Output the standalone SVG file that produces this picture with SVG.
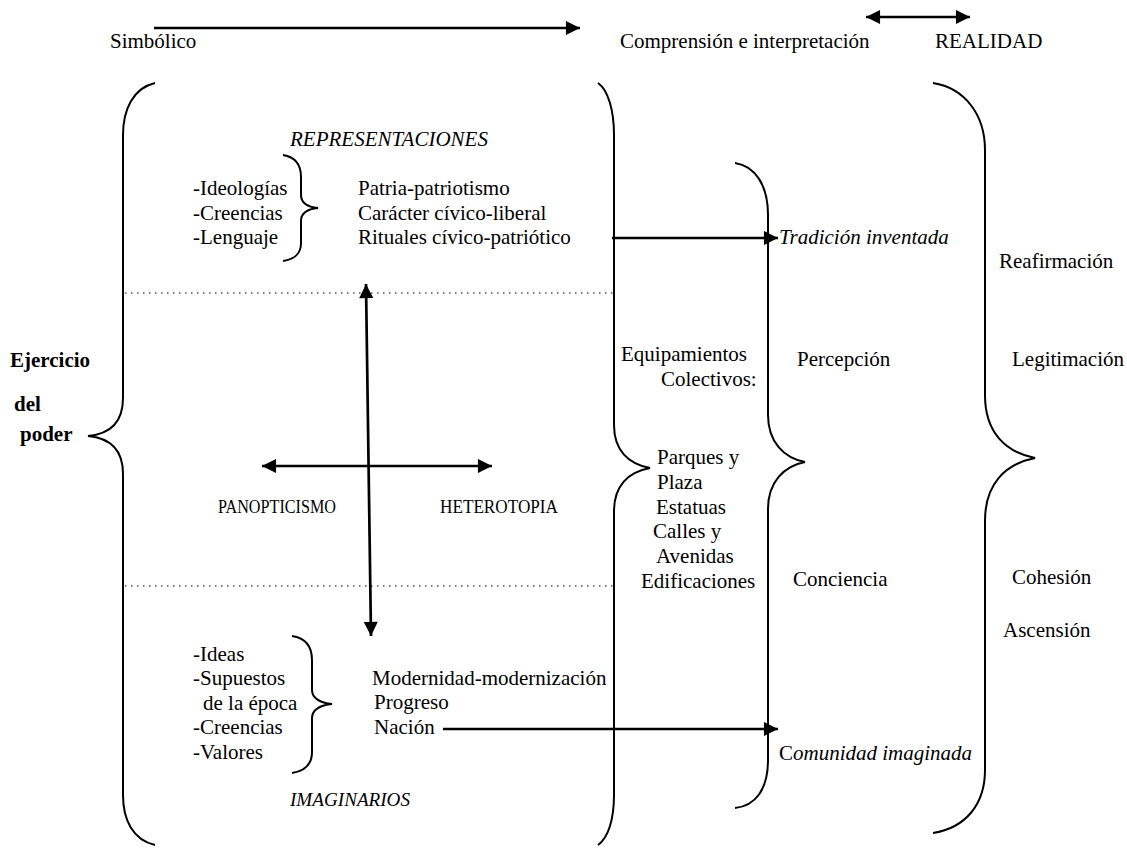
<svg xmlns="http://www.w3.org/2000/svg" width="1127" height="848" viewBox="0 0 1127 848">
<style>
text{font-family:"Liberation Serif","Times New Roman",serif;font-size:21px;fill:#000}
.i{font-style:italic}
.b{font-weight:bold}
.br{fill:none;stroke:#000;stroke-width:2}
.ar{fill:none;stroke:#000;stroke-width:2.7}
.dot{stroke:#000;stroke-width:1.2;stroke-dasharray:1.5 4.5}
.cap{font-size:18.5px}
</style>
<defs>
<marker id="ah" viewBox="0 0 10 10" refX="10" refY="5" markerWidth="5.6" markerHeight="5.2" markerUnits="strokeWidth" orient="auto-start-reverse">
<path d="M0,0 L10,5 L0,10 z" fill="#000"/>
</marker>
</defs>
<rect width="1127" height="848" fill="#fff"/>

<g id="header">
<text x="110" y="48">Simbólico</text>
<text x="620" y="48">Comprensión e interpretación</text>
<text x="935" y="48">REALIDAD</text>
</g>

<g id="braces">
<path class="br" d="M155,83 C133,88 123,110 123,135 L123,398 C123,422 110,434 88,436 C110,438 123,450 123,474 L123,795 C123,820 133,840 155,845"/>
<path class="br" d="M598,83 C608,90 614,110 614,135 L614,425 C614,450 628,464 650,468 C628,472 614,486 614,511 L614,795 C614,820 608,838 598,845"/>
<path class="br" d="M735,163 C755,166 768,185 768,215 L768,415 C768,442 784,458 805,462 C784,466 768,482 768,509 L768,760 C768,790 755,806 735,808"/>
<path class="br" d="M933,83 C965,88 985,115 985,150 L985,395 C985,432 1005,452 1035,458 C1005,464 985,484 985,521 L985,770 C985,805 965,828 933,833"/>
<path class="br" d="M283,155 C295,157 301,165 301,177 L301,195 C301,203 308,207 318,208 C308,209 301,213 301,221 L301,243 C301,254 295,259 283,261"/>
<path class="br" d="M292,636 C305,638 312,646 312,660 L312,690 C312,698 320,703 332,704 C320,705 312,710 312,718 L312,752 C312,765 305,771 292,773"/>
</g>

<g id="dotted">
<line class="dot" x1="125" y1="293" x2="616" y2="293"/>
<line class="dot" x1="125" y1="586" x2="616" y2="586"/>
</g>

<g id="connectors">
<line class="ar" x1="154" y1="28" x2="580" y2="28" marker-end="url(#ah)"/>
<line class="ar" x1="866" y1="17" x2="970" y2="17" marker-start="url(#ah)" marker-end="url(#ah)"/>
<line class="ar" x1="366" y1="284" x2="371" y2="636" marker-start="url(#ah)" marker-end="url(#ah)"/>
<line class="ar" x1="262" y1="466" x2="492" y2="466" marker-start="url(#ah)" marker-end="url(#ah)"/>
<line class="ar" x1="612" y1="238" x2="778" y2="238" marker-end="url(#ah)"/>
<line class="ar" x1="443" y1="729" x2="778" y2="729" marker-end="url(#ah)"/>
</g>

<g id="left-label">
<text class="b" x="10" y="367">Ejercicio</text>
<text class="b" x="14" y="411">del</text>
<text class="b" x="20" y="441">poder</text>
</g>

<g id="representaciones">
<text class="i" x="290" y="146">REPRESENTACIONES</text>
<text x="193" y="195">-Ideologías</text>
<text x="193" y="220">-Creencias</text>
<text x="193" y="244">-Lenguaje</text>
<text x="358" y="195">Patria-patriotismo</text>
<text x="358" y="220">Carácter cívico-liberal</text>
<text x="358" y="244">Rituales cívico-patriótico</text>
</g>

<g id="centro">
<text class="cap" x="218" y="513" textLength="118" lengthAdjust="spacingAndGlyphs">PANOPTICISMO</text>
<text class="cap" x="440" y="513" textLength="118" lengthAdjust="spacingAndGlyphs">HETEROTOPIA</text>
</g>

<g id="imaginarios">
<text x="193" y="661">-Ideas</text>
<text x="193" y="685">-Supuestos</text>
<text x="203" y="710">de la época</text>
<text x="193" y="734">-Creencias</text>
<text x="193" y="759">-Valores</text>
<text x="372" y="685">Modernidad-modernización</text>
<text x="374" y="709">Progreso</text>
<text x="374" y="734">Nación</text>
<text class="i" x="290" y="806" style="font-size:19.5px" textLength="120" lengthAdjust="spacingAndGlyphs">IMAGINARIOS</text>
</g>

<g id="equipamientos">
<text x="621" y="361">Equipamientos</text>
<text x="661" y="386">Colectivos:</text>
<text x="657" y="464">Parques y</text>
<text x="657" y="489">Plaza</text>
<text x="656" y="514">Estatuas</text>
<text x="653" y="538">Calles y</text>
<text x="656" y="563">Avenidas</text>
<text x="641" y="588">Edificaciones</text>
</g>

<g id="percepcion">
<text class="i" x="779" y="244">Tradición inventada</text>
<text x="797" y="366">Percepción</text>
<text x="793" y="586">Conciencia</text>
<text x="779" y="760">C<tspan class="i">omunidad imaginada</tspan></text>
</g>

<g id="realidad">
<text x="999" y="268">Reafirmación</text>
<text x="1012" y="366">Legitimación</text>
<text x="1012" y="584">Cohesión</text>
<text x="1003" y="637">Ascensión</text>
</g>
</svg>
